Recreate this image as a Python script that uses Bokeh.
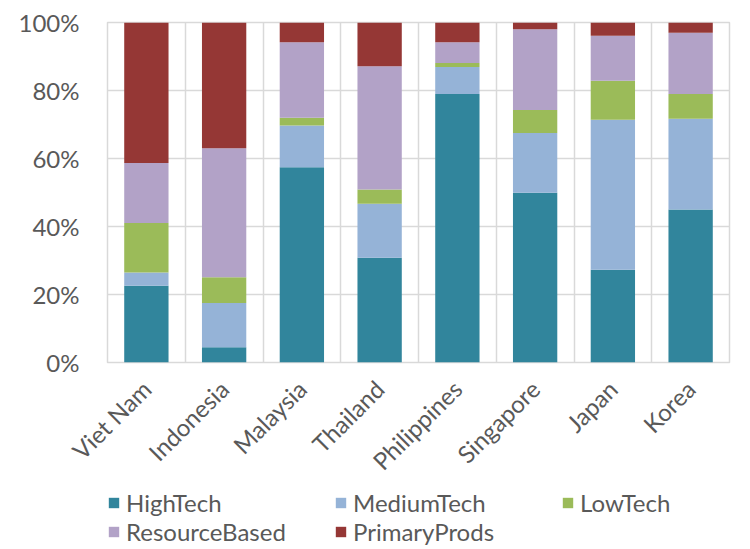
import math
from bokeh.plotting import figure
from bokeh.layouts import column
from bokeh.models import (ColumnDataSource, Legend, LegendItem, FixedTicker,
                          FactorRange, Range1d, PrintfTickFormatter)
from bokeh.embed import file_html
from bokeh.resources import INLINE

countries = ["Viet Nam", "Indonesia", "Malaysia", "Thailand",
             "Philippines", "Singapore", "Japan", "Korea"]
series = ["HighTech", "MediumTech", "LowTech", "ResourceBased", "PrimaryProds"]
high_tech = [22.6, 4.5, 57.4, 30.8, 79.0, 49.9, 27.3, 45.0]
medium_tech = [3.9, 13.0, 12.3, 15.9, 7.9, 17.6, 44.1, 26.7]
low_tech = [14.5, 7.6, 2.3, 4.2, 1.2, 6.8, 11.5, 7.3]
resource_based = [17.7, 37.9, 22.2, 36.2, 6.1, 23.7, 13.2, 18.0]
primary_prods = [41.3, 37.0, 5.8, 12.9, 5.8, 2.0, 3.9, 3.0]
y_ticks = [0, 20, 40, 60, 80, 100]
colors = ["#31859C", "#95B3D7", "#9BBB59", "#B2A2C7", "#953735"]

FONT = "Lato"
TXT = "#595959"
GRID = "#D9D9D9"

source = ColumnDataSource(dict(country=countries, HighTech=high_tech,
                               MediumTech=medium_tech, LowTech=low_tech,
                               ResourceBased=resource_based,
                               PrimaryProds=primary_prods))

p = figure(x_range=FactorRange(*countries, range_padding=0, factor_padding=0),
           y_range=Range1d(0, 100), frame_width=622, frame_height=340,
           output_backend="svg", toolbar_location=None,
           min_border_left=107, min_border_right=5, min_border_top=22,
           min_border_bottom=10)

renderers = p.vbar_stack(series, x="country", width=0.57, color=colors,
                         line_color=None, source=source)

p.outline_line_color = GRID
p.outline_line_width = 1.5

p.ygrid.ticker = FixedTicker(ticks=y_ticks)
p.ygrid.grid_line_color = GRID
p.ygrid.grid_line_width = 1.5
p.xgrid.ticker = FixedTicker(ticks=list(range(1, len(countries))))
p.xgrid.grid_line_color = GRID
p.xgrid.grid_line_width = 1.5

p.yaxis.ticker = FixedTicker(ticks=y_ticks)
p.yaxis.formatter = PrintfTickFormatter(format="%d%%")
for ax in (p.xaxis[0], p.yaxis[0]):
    ax.axis_line_color = None
    ax.major_tick_line_color = None
    ax.minor_tick_line_color = None
    ax.major_label_text_font = FONT
    ax.major_label_text_color = TXT
    ax.major_label_text_font_size = "24px"
p.yaxis.major_label_standoff = 22
p.xaxis.major_label_standoff = 16
p.xaxis.major_label_orientation = math.pi / 4

# legend strip under the chart: same stacked series with zero width,
# only their legend swatches are shown
leg = figure(width=734, height=62,
             x_range=FactorRange(*countries), y_range=Range1d(-2, -1),
             output_backend="svg", toolbar_location=None,
             x_axis_location=None, y_axis_location=None,
             min_border_left=95, min_border_right=0, min_border_top=0,
             min_border_bottom=0, outline_line_color=None)
leg.grid.visible = False
swatches = leg.vbar_stack(series, x="country", width=0, color=colors,
                          line_color=None, source=source)

items = [LegendItem(label=s, renderers=[r]) for s, r in zip(series, swatches)]
lg = Legend(items=items, location="top_left", orientation="horizontal",
            ncols=3, label_width=208, glyph_width=13, glyph_height=13,
            label_standoff=6, spacing=0, padding=0, margin=0,
            border_line_color=None, background_fill_alpha=0,
            label_text_font=FONT, label_text_color=TXT,
            label_text_font_size="24px")
leg.add_layout(lg, "center")

open("out.html", "w").write(file_html(column(p, leg), INLINE))
